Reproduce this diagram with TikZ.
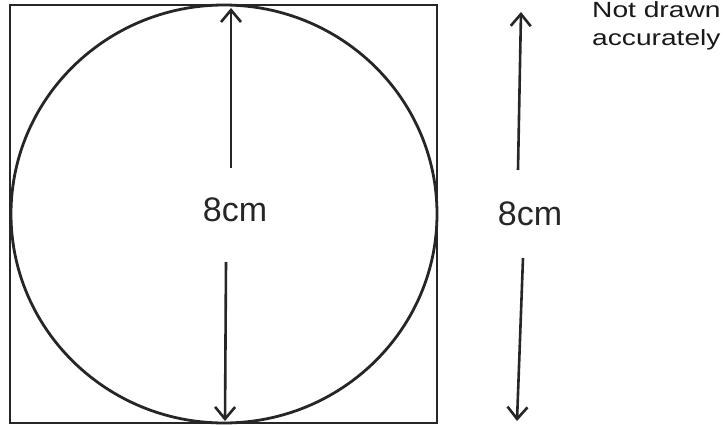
\documentclass[tikz,border=0pt]{standalone}
\usepackage{fontspec}
\setmainfont{Liberation Sans}
\usetikzlibrary{arrows.meta}
\begin{document}
\begin{tikzpicture}[x=1pt,y=-1pt,
  ln/.style={line width=2.8pt, black!85},
  dim/.style={line width=2.6pt, black!85, -{Straight Barb[length=12pt,width=20pt,line width=2.6pt]}},
  hand/.style={font=\fontsize{34}{34}\selectfont, black!85, inner sep=0pt},
  note/.style={font=\fontsize{22}{28}\selectfont, black!90, align=left, inner sep=0pt, anchor=north west}]
\useasboundingbox (0,0) rectangle (723,425);
% square and inscribed circle
\draw[ln] (10,5) rectangle (437,423);
\draw[ln] (224,214) ellipse [x radius=213, y radius=209];
% inner dimension
\coordinate (t1) at (231,8);
\coordinate (b1) at (225,421);
\coordinate (u1) at (231,168);
\coordinate (d1) at (226,262);
\node[hand] (l1) at (235,210) {8cm};
\draw[dim] (u1) -- (t1);
\draw[dim] (d1) -- (b1);
% outer dimension
\coordinate (t2) at (521,12);
\coordinate (b2) at (517,421);
\coordinate (u2) at (518,170);
\coordinate (d2) at (523,258);
\node[hand] (l2) at (530,214) {8cm};
\draw[dim] (u2) -- (t2);
\draw[dim] (d2) -- (b2);
% note
\node[note] (n) at (592,1) {\scalebox{1.28}[1]{Not drawn}\\\scalebox{1.28}[1]{accurately}};
\end{tikzpicture}
\end{document}
